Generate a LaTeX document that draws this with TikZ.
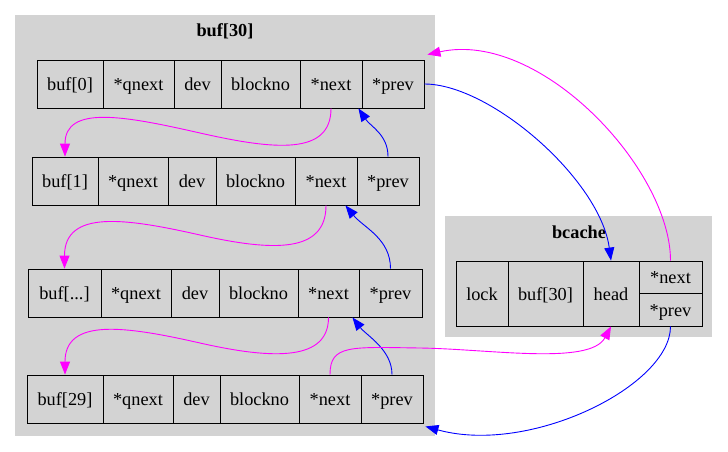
\documentclass[tikz,border=0pt]{standalone}
\usepackage{fontspec}
\setmainfont{Liberation Serif}
\usetikzlibrary{arrows.meta}
\definecolor{clgray}{RGB}{211,211,211}
\definecolor{nextc}{RGB}{255,0,255}
\definecolor{prevc}{RGB}{0,0,255}
\newcommand{\cellnode}[6]{\node[cellbox, minimum width={#3pt-#2pt}, minimum height={#5pt-#4pt}] (#1) at ({(#2+#3)/2},{(#4+#5)/2}) {#6};}
\tikzset{
  cellbox/.style={rectangle, draw=black, fill=clgray, line width=0.9pt, inner sep=0pt,
    font=\fontsize{18.3}{20}\selectfont, text height=13.4pt, text depth=0pt},
  clusterbg/.style={fill=clgray, draw=none},
  cltitle/.style={font=\bfseries\fontsize{18.3}{20}\selectfont, anchor=base, inner sep=0pt},
  link/.style={line width=0.9pt, -{Triangle[length=13pt,width=10pt]}},
  nextlink/.style={link, draw=nextc},
  prevlink/.style={link, draw=prevc},
}
\begin{document}
\begin{tikzpicture}[x=1pt,y=-1pt]
\useasboundingbox (0,0) rectangle (728,451);
% clusters
\fill[clusterbg] (15,15) rectangle (435,436);
\node[cltitle] (t1) at (225,36.5) {buf[30]};
\fill[clusterbg] (445,216) rectangle (712,337);
\node[cltitle] (t2) at (579,238) {bcache};
% row 0
\cellnode{r0a}{37}{103}{60}{108}{buf[0]}
\cellnode{r0b}{103}{174}{60}{108}{*qnext}
\cellnode{r0c}{174}{221}{60}{108}{dev}
\cellnode{r0d}{221}{300}{60}{108}{blockno}
\cellnode{r0e}{300}{362}{60}{108}{*next}
\cellnode{r0f}{362}{424}{60}{108}{*prev}
% row 1
\cellnode{r1a}{32}{98}{157}{205}{buf[1]}
\cellnode{r1b}{98}{168}{157}{205}{*qnext}
\cellnode{r1c}{168}{216}{157}{205}{dev}
\cellnode{r1d}{216}{295}{157}{205}{blockno}
\cellnode{r1e}{295}{357}{157}{205}{*next}
\cellnode{r1f}{357}{419}{157}{205}{*prev}
% row 2
\cellnode{r2a}{28}{101}{269}{317}{buf[...]}
\cellnode{r2b}{101}{171}{269}{317}{*qnext}
\cellnode{r2c}{171}{219}{269}{317}{dev}
\cellnode{r2d}{219}{298}{269}{317}{blockno}
\cellnode{r2e}{298}{359}{269}{317}{*next}
\cellnode{r2f}{359}{422}{269}{317}{*prev}
% row 3
\cellnode{r3a}{27}{103}{375}{423}{buf[29]}
\cellnode{r3b}{103}{173}{375}{423}{*qnext}
\cellnode{r3c}{173}{220}{375}{423}{dev}
\cellnode{r3d}{220}{299}{375}{423}{blockno}
\cellnode{r3e}{299}{361}{375}{423}{*next}
\cellnode{r3f}{361}{423}{375}{423}{*prev}
% bcache
\cellnode{lock}{456}{508}{261}{326}{lock}
\cellnode{bbuf}{508}{583}{261}{326}{buf[30]}
\cellnode{head}{583}{639}{261}{326}{head}
\cellnode{bnext}{639}{702}{261}{293}{*next}
\cellnode{bprev}{639}{702}{293}{326}{*prev}
% waypoints
\coordinate (m01) at (200,133);
\coordinate (m12) at (200,235);
\coordinate (m23) at (200,343);
\coordinate (m3h) at (420,348);
% next links between rows
\draw[nextlink] (r0e.south) .. controls +(0,47) and +(75,17) .. (m01)
  .. controls +(-75,-17) and +(0,-52) .. (r1a.north);
\draw[nextlink] (r1e.south) .. controls +(0,47) and +(75,17) .. (m12)
  .. controls +(-75,-17) and +(0,-59) .. (r2a.north);
\draw[nextlink] (r2e.south) .. controls +(0,43) and +(75,17) .. (m23)
  .. controls +(-75,-17) and +(0,-57) .. (r3a.north);
% prev links between rows
\draw[prevlink] (r1f.north) .. controls +(0,-22) and +(12,18) .. ([xshift=-4pt]r0e.south east);
\draw[prevlink] (r2f.north) .. controls +(0,-30) and +(18,22) .. ([xshift=-12pt]r1e.south east);
\draw[prevlink] (r3f.north) .. controls +(0,-25) and +(14,18) .. ([xshift=-7pt]r2e.south east);
% links with bcache
\draw[nextlink] (r3e.north) .. controls +(0,-30) and +(-70,-1) .. (m3h)
  .. controls +(70,1) and +(-21,39) .. (head.south);
\draw[nextlink] (bnext.north) .. controls +(0,-91) and +(113,-25) .. ([shift={(3,-5)}]r0f.north east);
\draw[prevlink] (r0f.east) .. controls +(66,0) and +(-11,-81) .. (head.north);
\draw[prevlink] (bprev.south) .. controls +(0,59) and +(105,29) .. ([shift={(2,3)}]r3f.south east);
\end{tikzpicture}
\end{document}
